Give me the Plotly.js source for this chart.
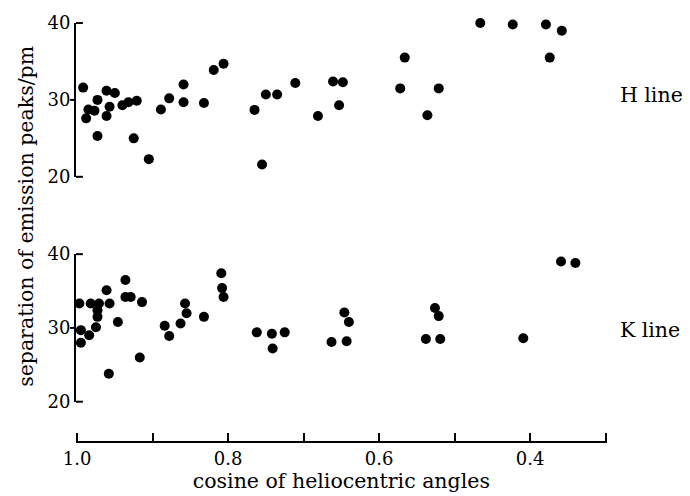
<!DOCTYPE html>
<html>
<head>
<meta charset="utf-8">
<script src="https://cdn.plot.ly/plotly-3.0.1.min.js"></script>
<style>html,body{margin:0;padding:0;background:#fff;}#chart{width:690px;height:496px;}</style>
</head>
<body>
<div id="chart"></div>
<script>
// H line: cosine of heliocentric angle vs separation of emission peaks (pm)
const hCos = [0.992,0.988,0.985,0.977,0.973,0.973,0.961,0.961,0.957,0.950,0.940,0.932,0.921,0.925,0.905,0.889,0.878,0.859,0.859,0.832,0.819,0.806,0.765,0.750,0.755,0.735,0.711,0.661,0.648,0.653,0.681,0.566,0.572,0.521,0.536,0.466,0.423,0.379,0.358,0.374];
const hSep = [31.6,27.6,28.75,28.6,30.0,25.3,31.2,27.9,29.1,30.9,29.3,29.7,29.9,25.0,22.3,28.75,30.2,32.0,29.7,29.6,33.9,34.7,28.7,30.7,21.6,30.7,32.2,32.4,32.3,29.3,27.9,35.5,31.5,31.5,28.0,40.0,39.8,39.8,39.0,35.5];
// K line
const kCos = [0.997,0.995,0.995,0.984,0.982,0.975,0.973,0.973,0.971,0.961,0.958,0.957,0.946,0.936,0.936,0.929,0.917,0.914,0.884,0.878,0.863,0.857,0.855,0.832,0.809,0.808,0.806,0.762,0.742,0.741,0.725,0.646,0.640,0.663,0.643,0.526,0.521,0.538,0.519,0.409,0.359,0.340];
const kSep = [33.3,29.7,28.0,29.0,33.3,30.1,31.5,32.4,33.3,35.1,23.8,33.3,30.8,36.5,34.2,34.2,26.0,33.5,30.3,28.9,30.6,33.3,32.0,31.5,37.4,35.4,34.2,29.4,29.2,27.2,29.4,32.1,30.8,28.1,28.2,32.7,31.6,28.5,28.5,28.6,39.0,38.8];

const xTickVals = [1.0,0.9,0.8,0.7,0.6,0.5,0.4,0.3];
const xTickText = ['1.0','','0.8','','0.6','','0.4',''];
const yTickVals = [20,30,40];
const yTickText = ['20','30','40'];
const panelLabels = ['H line','K line'];
const xTitle = 'cosine of heliocentric angles';
const yTitle = 'separation of emission peaks/pm';

const FONT = 'DejaVu Serif';
function mk(){ return {color:'#000', size:10, line:{width:0}}; }

const traces = [
  {x:hCos, y:hSep, xaxis:'x', yaxis:'y', type:'scatter', mode:'markers', marker:mk(), cliponaxis:false},
  {x:kCos, y:kSep, xaxis:'x', yaxis:'y2', type:'scatter', mode:'markers', marker:mk(), cliponaxis:false},
  {x:[], y:[], xaxis:'x', yaxis:'y3', type:'scatter', mode:'markers'},
  {x:[], y:[], xaxis:'x', yaxis:'y4', type:'scatter', mode:'markers'},
  {x:[], y:[], xaxis:'x', yaxis:'y5', type:'scatter', mode:'markers'},
  {x:[], y:[], xaxis:'x', yaxis:'y6', type:'scatter', mode:'markers'}
];

function yAxis(domain){
  return {domain:domain, range:[20,40], anchor:'x', showline:true, linewidth:2, linecolor:'#000',
    ticks:'', tickvals:yTickVals, ticktext:yTickText, showgrid:false, zeroline:false,
    tickfont:{family:FONT, size:18, color:'#000'}};
}

// text-only axes used to place the panel labels and the shared y title
function labelAxis(domain, pos, side, val, text, angle){
  return {domain:domain, range:[0,1], anchor:'free', position:pos, side:side,
    showline:false, showgrid:false, zeroline:false, ticks:'',
    tickvals:[val], ticktext:[text], tickangle:angle,
    tickfont:{family:FONT, size:20.5, color:'#000'}};
}

function bracket(yref){
  const L = 0.013;
  const r = yref + ' domain';
  return [
    {type:'line', xref:'x domain', yref:r, x0:0, x1:L, y0:1, y1:1, line:{color:'#000', width:2}},
    {type:'line', xref:'x domain', yref:r, x0:0, x1:L, y0:0, y1:0, line:{color:'#000', width:2}},
    {type:'line', xref:'x domain', yref:r, x0:-0.011, x1:0, y0:0.5, y1:0.5, line:{color:'#000', width:2}}
  ];
}

const layout = {
  width:690, height:496,
  margin:{l:0, r:0, t:23, b:55},
  paper_bgcolor:'#fff', plot_bgcolor:'rgba(0,0,0,0)',
  showlegend:false,
  font:{family:FONT, color:'#000'},
  xaxis:{domain:[0.1101,0.8793], range:[1.0015,0.2985], anchor:'y3', showline:true, linewidth:2, linecolor:'#000',
    ticks:'inside', ticklen:8, tickwidth:2, tickcolor:'#000', tickvals:xTickVals, ticktext:xTickText,
    showgrid:false, zeroline:false, tickfont:{family:FONT, size:18, color:'#000'},
    title:{text:xTitle, font:{family:FONT, size:20.5, color:'#000'}, standoff:6}},
  yaxis:yAxis([0.632,1.0]),
  yaxis2:yAxis([0.094,0.447]),
  yaxis3:{domain:[0,0.05], range:[0,1], anchor:'x', visible:false},
  yaxis4:labelAxis([0,1], 0.054, 'left', 0.53, yTitle, -90),
  yaxis5:labelAxis([0.632,1.0], 0.897, 'right', 0.53, panelLabels[0], 0),
  yaxis6:labelAxis([0.094,0.447], 0.897, 'right', 0.49, panelLabels[1], 0),
  shapes:bracket('y').concat(bracket('y2'))
};

Plotly.newPlot('chart', traces, layout, {displayModeBar:false});
</script>
</body>
</html>
